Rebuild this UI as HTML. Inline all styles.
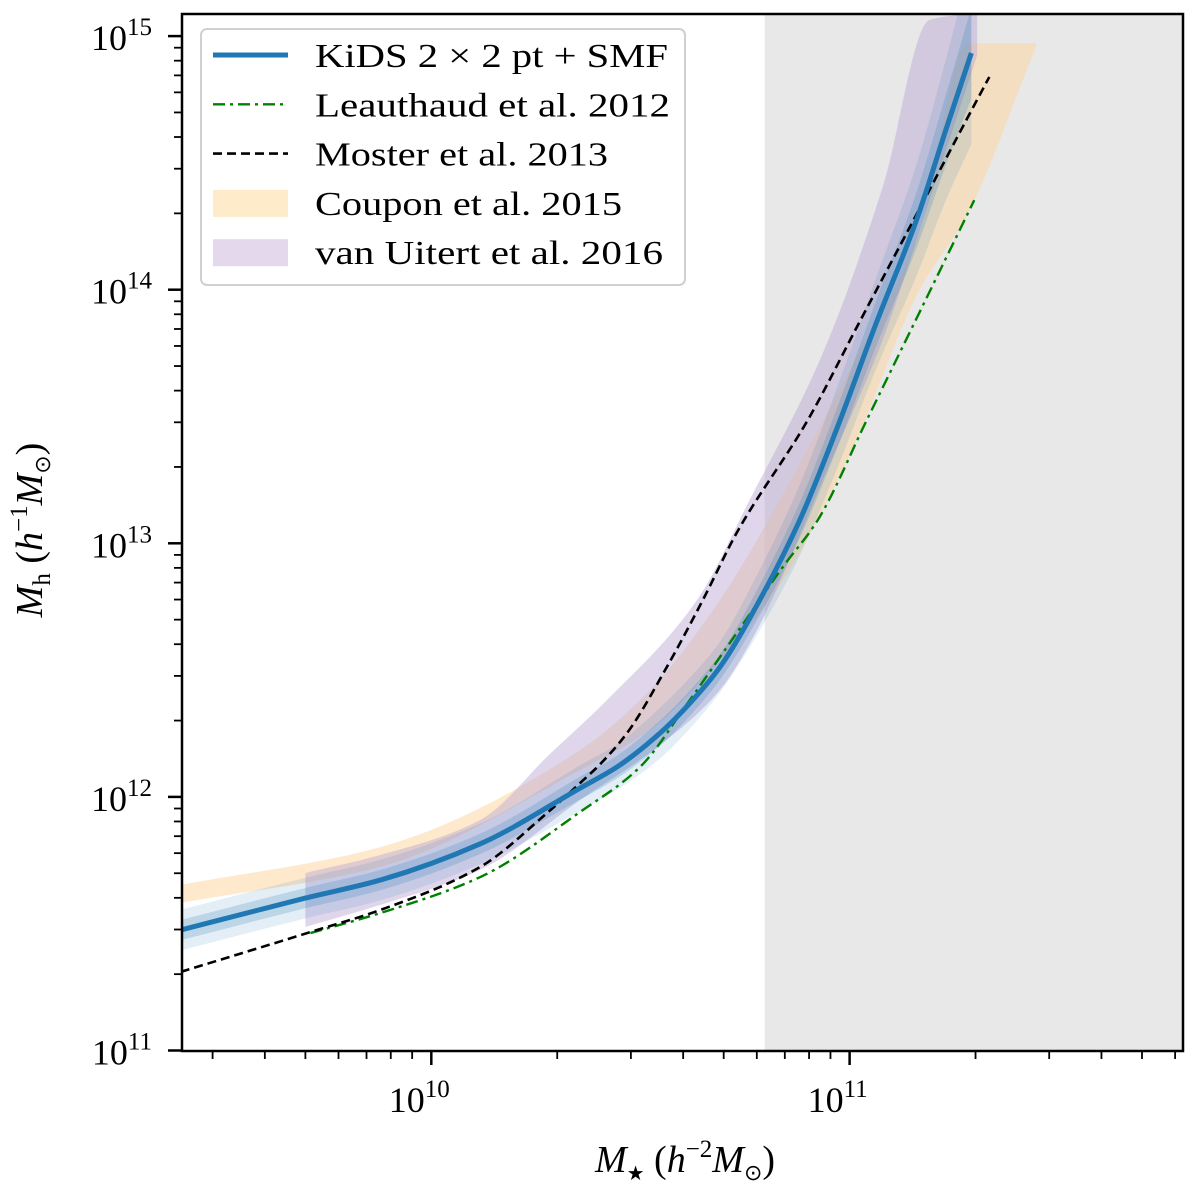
<!DOCTYPE html>
<html><head><meta charset="utf-8">
<style>
html,body{margin:0;padding:0;background:#fff;}
svg{display:block;font-family:"Liberation Serif",serif;}
</style></head>
<body>
<svg id="chart" width="1200" height="1193" viewBox="0 0 1200 1193" xmlns="http://www.w3.org/2000/svg">
<g id="plot"></g>
</svg>
<script>
// data: log10 stellar mass (x) and log10 halo mass (y)
const kidsX = [9.401, 9.699, 9.878, 10.117, 10.356, 10.444, 10.547, 10.625, 10.690, 10.785, 10.881, 10.969, 11.064, 11.160, 11.232, 11.291];
const kidsY = [11.475, 11.601, 11.672, 11.815, 12.035, 12.118, 12.252, 12.382, 12.512, 12.776, 13.092, 13.450, 13.870, 14.275, 14.640, 14.933];
const kidsErr = [0.04, 0.04, 0.04, 0.04, 0.045, 0.045, 0.05, 0.05, 0.05, 0.06, 0.07, 0.08, 0.09, 0.11, 0.14, 0.18];
const leauX = [9.711, 9.878, 10.117, 10.356, 10.499, 10.618, 10.730, 10.840, 10.924, 11.041, 11.158, 11.298];
const leauY = [11.463, 11.542, 11.684, 11.941, 12.118, 12.382, 12.646, 12.906, 13.092, 13.486, 13.880, 14.353];
const mostX = [9.401, 9.711, 9.878, 10.117, 10.277, 10.356, 10.403, 10.468, 10.563, 10.649, 10.730, 10.900, 11.026, 11.153, 11.279, 11.334];
const mostY = [11.310, 11.467, 11.554, 11.724, 11.937, 12.055, 12.128, 12.252, 12.512, 12.776, 13.041, 13.486, 13.880, 14.275, 14.669, 14.839];
const coupX = [9.401, 9.878, 10.356, 10.523, 10.690, 10.833, 11.0, 11.167, 11.282, 11.446];
const coupUp = [11.653, 11.802, 12.185, 12.422, 12.776, 13.171, 13.683, 14.235, 14.972, 14.972];
const coupLo = [11.582, 11.724, 12.106, 12.264, 12.540, 12.836, 13.349, 13.999, 14.300, 14.960];
const vuUpX = [9.699, 9.878, 10.117, 10.284, 10.420, 10.635, 10.761, 10.936, 11.079, 11.191, 11.305];
const vuUp = [11.700, 11.771, 11.909, 12.170, 12.382, 12.776, 13.171, 13.750, 14.405, 15.064, 15.092];
const vuLoX = [9.699, 9.878, 10.117, 10.356, 10.547, 10.690, 10.785, 10.936, 11.079, 11.191, 11.305];
const vuLo = [11.487, 11.574, 11.712, 11.988, 12.205, 12.422, 12.678, 13.250, 13.802, 14.353, 14.925];
const shadeStart = 10.797;
const xTicks = [10, 11];
const yTicks = [11, 12, 13, 14, 15];

const L = 182, R = 1183, T = 14, B = 1051;
const xmin = 9.404, xmax = 11.797;
function sx(v){ return L + (v - xmin) / (xmax - xmin) * (R - L); }
function sy(v){ return 1050.5 - (v - 11) * 253.6; }
const NS = "http://www.w3.org/2000/svg";
const g = document.getElementById('plot');
function mk(tag, attrs, parent){
  const e = document.createElementNS(NS, tag);
  for (const k in attrs) e.setAttribute(k, attrs[k]);
  (parent || g).appendChild(e);
  return e;
}
function smooth(pts){
  const n = pts.length;
  if (n < 3) return 'M' + pts.map(p=>p[0]+','+p[1]).join(' L');
  const dx = [], sl = [];
  for (let i = 0; i < n-1; i++){ dx[i] = pts[i+1][0]-pts[i][0]; sl[i] = (pts[i+1][1]-pts[i][1])/dx[i]; }
  const m = [sl[0]];
  for (let i = 1; i < n-1; i++){
    if (sl[i-1]*sl[i] <= 0) m[i] = 0;
    else { const w1 = 2*dx[i]+dx[i-1], w2 = dx[i]+2*dx[i-1]; m[i] = (w1+w2)/(w1/sl[i-1]+w2/sl[i]); }
  }
  m[n-1] = sl[n-2];
  let d = 'M' + pts[0][0] + ',' + pts[0][1];
  for (let i = 0; i < n-1; i++){
    const h = dx[i]/3;
    d += ' C' + (pts[i][0]+h) + ',' + (pts[i][1]+m[i]*h) + ' ' + (pts[i+1][0]-h) + ',' + (pts[i+1][1]-m[i+1]*h) + ' ' + pts[i+1][0] + ',' + pts[i+1][1];
  }
  return d;
}
const defs = mk('defs', {});
const cp = mk('clipPath', {id:'clip'}, defs);
mk('rect', {x:L, y:T, width:R-L, height:B-T}, cp);
const clipG = mk('g', {'clip-path':'url(#clip)'});



const shade = mk('rect', {x:sx(shadeStart), y:T, width:R-sx(shadeStart), height:B-T, fill:'#e8e8e8'}, clipG);



function band(xu, up, xl, lo, fill, op, name){
  const upP = xu.map((x,i)=>[sx(x), sy(up[i])]);
  const loP = xl.map((x,i)=>[sx(x), sy(lo[i])]).reverse();
  let d = smooth(upP) + ' L' + smooth(loP).slice(1) + 'Z';
  const p = mk('path', {d:d, fill:fill, 'fill-opacity':op}, clipG);
  
  
}
function line(xs, ys, stroke, w, dash, name){
  const d = smooth(xs.map((x,i)=>[sx(x), sy(ys[i])]));
  const p = mk('path', {d:d, fill:'none', stroke:stroke, 'stroke-width':w, 'stroke-dasharray':dash, 'stroke-linejoin':'round'}, clipG);
  
  
}
band(coupX, coupUp, coupX, coupLo, '#fdd49b', 0.5, 'coupon-2015-band');
band(vuUpX, vuUp, vuLoX, vuLo, '#b9a3d3', 0.45, 'van-uitert-2016-band');
band(kidsX, kidsY.map((y,i)=>y+kidsErr[i]*2), kidsX, kidsY.map((y,i)=>y-kidsErr[i]*2), '#1f77b4', 0.12, 'kids-band-outer');
band(kidsX, kidsY.map((y,i)=>y+kidsErr[i]), kidsX, kidsY.map((y,i)=>y-kidsErr[i]), '#1f77b4', 0.2, 'kids-band-inner');
line(leauX, leauY, '#008000', 2.4, '12,5,3,5', 'leauthaud-2012-line');
line(mostX, mostY, '#000', 2.6, '9,5', 'moster-2013-line');
line(kidsX, kidsY, '#1f77b4', 5, 'none', 'kids-line');

const frame = mk('rect', {x:L, y:T, width:R-L, height:B-T, fill:'none', stroke:'#000', 'stroke-width':2.5});



for (let dec = 9; dec <= 11; dec++){
  for (let m = 1; m <= 9; m++){
    const v = dec + Math.log10(m);
    if (v < xmin || v > xmax) continue;
    const x = sx(v), major = (m === 1);
    const t = mk('line', {x1:x, x2:x, y1:B, y2:B+(major?14:8), stroke:'#000', 'stroke-width':major?2.5:1.8});
    
    
  }
}
xTicks.forEach(v=>{
  const t = mk('text', {x:sx(v)-12, y:1112, 'font-size':36, 'text-anchor':'middle'});
  
  
  t.innerHTML = '10<tspan dy="-15" font-size="25">' + v + '</tspan>';
});
for (let dec = 11; dec <= 15; dec++){
  for (let m = 1; m <= 9; m++){
    const v = dec + Math.log10(m);
    if (v < 11 || v > 15.1) continue;
    const y = sy(v), major = (m === 1);
    const t = mk('line', {x1:L, x2:L-(major?14:8), y1:y, y2:y, stroke:'#000', 'stroke-width':major?2.5:1.8});
    
    
  }
}
yTicks.forEach(v=>{
  const t = mk('text', {x:152, y:sy(v)+14, 'font-size':36, 'text-anchor':'end'});
  
  
  t.innerHTML = '10<tspan dy="-15" font-size="25">' + v + '</tspan>';
});
const xt = mk('text', {x:685, y:1172, 'font-size':38, 'text-anchor':'middle'});


xt.innerHTML = '<tspan font-style="italic">M</tspan><tspan font-size="20" dy="8">★</tspan><tspan dy="-8"> (</tspan><tspan font-style="italic">h</tspan><tspan font-size="25" dy="-15">−2</tspan><tspan dy="15" font-style="italic">M</tspan><tspan font-size="22" dy="8">⊙</tspan><tspan dy="-8">)</tspan>';
const yt = mk('text', {x:0, y:0, 'font-size':38, 'text-anchor':'middle', transform:'translate(42,530) rotate(-90)'});


yt.innerHTML = '<tspan font-style="italic">M</tspan><tspan font-size="25" dy="8">h</tspan><tspan dy="-8"> (</tspan><tspan font-style="italic">h</tspan><tspan font-size="25" dy="-15">−1</tspan><tspan dy="15" font-style="italic">M</tspan><tspan font-size="22" dy="8">⊙</tspan><tspan dy="-8">)</tspan>';

const lg = mk('g', {});


const lb = mk('rect', {x:201, y:29, width:484, height:256, rx:6, fill:'#fff', 'fill-opacity':0.85, stroke:'#d0d0d0', 'stroke-width':2}, lg);


const entries = [
  ['KiDS 2 × 2 pt + SMF', 'line', '#1f77b4', 5, 'none', 353],
  ['Leauthaud et al. 2012', 'line', '#008000', 2.4, '12,5,3,5', 355],
  ['Moster et al. 2013', 'line', '#000', 2.6, '9,5', 293],
  ['Coupon et al. 2015', 'patch', '#fdebc9', 0, '', 307],
  ['van Uitert et al. 2016', 'patch', '#e3d8ec', 0, '', 348]
];
entries.forEach((e,i)=>{
  const y = 55 + i*49.3;
  let s;
  if (e[1] === 'line') s = mk('line', {x1:213, x2:288, y1:y, y2:y, stroke:e[2], 'stroke-width':e[3], 'stroke-dasharray':e[4]}, lg);
  else s = mk('rect', {x:213, y:y-13, width:75, height:27, fill:e[2]}, lg);
  
  
  const t = mk('text', {x:315, y:y+12, 'font-size':34, textLength:e[5], lengthAdjust:'spacingAndGlyphs'}, lg);
  
  
  t.textContent = e[0];
});
</script>
</body></html>
